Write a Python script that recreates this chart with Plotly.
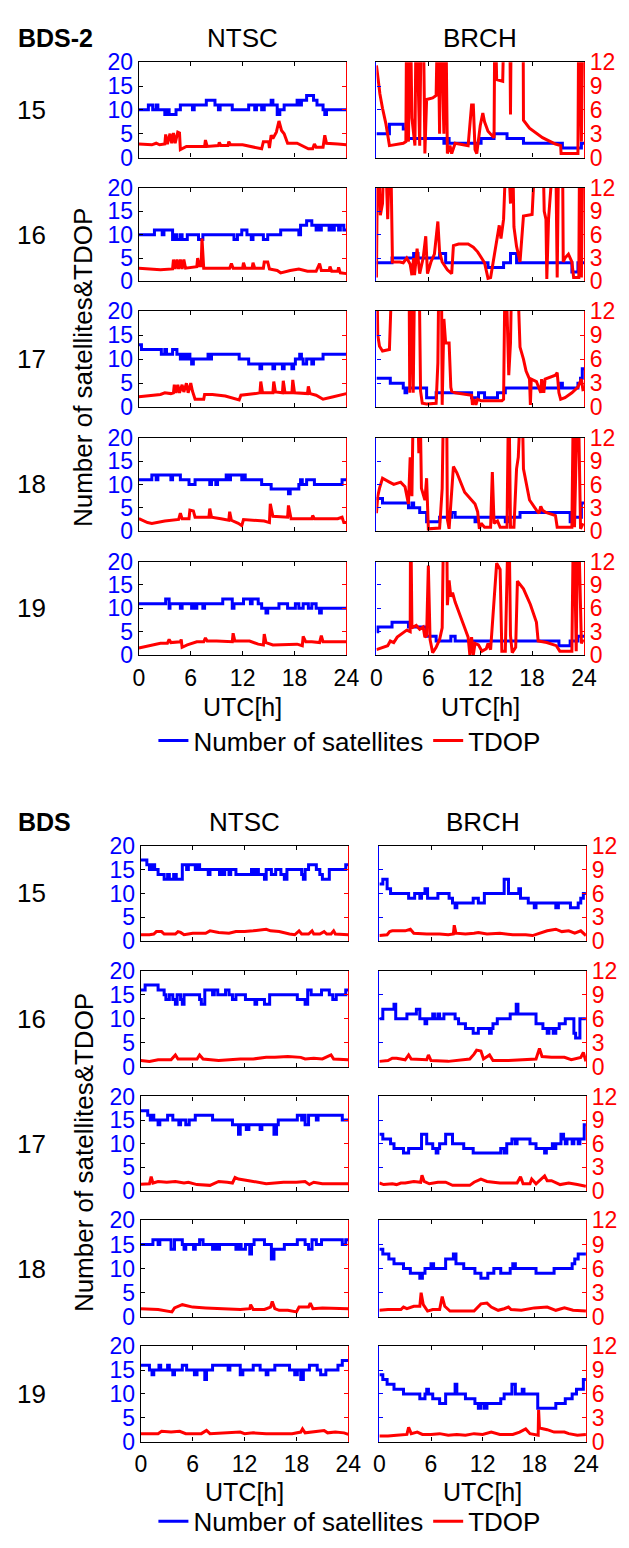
import plotly.graph_objects as go

W, H = 629, 1548
FONT = "Liberation Sans, Arial, sans-serif"
BLUE = "#0000FF"
RED = "#FF0000"

DAYS = ["15", "16", "17", "18", "19"]
STATIONS = ["NTSC", "BRCH"]
GROUP_NAMES = ["BDS-2", "BDS"]
X_TICKS = [0, 6, 12, 18, 24]
SAT_TICKS = [0, 5, 10, 15, 20]
TDOP_TICKS = [0, 3, 6, 9, 12]
SERIES_NAMES = ["Number of satellites", "TDOP"]

# ---------------- BDS-2, NTSC ----------------
BDS2_NTSC_15_SAT = [(0,10),(1.1,11),(1.6,10),(2.0,11),(2.2,10),(3.0,9),(3.3,10),(3.5,9),(4.3,10),(4.8,11),(6.0,11),(6.2,10),(6.4,11),(7.8,12),(8.8,11),(9.2,10),(9.4,11),(10.8,10),(12.7,11),(13.4,10),(13.6,11),(14.2,10),(14.5,11),(15.3,12),(15.5,11),(16.0,9),(16.3,10),(16.8,11),(18.3,12),(18.6,11),(18.8,12),(19.4,13),(20.2,12),(20.6,11),(21.3,10),(21.5,9),(21.7,10),(24,10)]
BDS2_NTSC_15_TDOP = [(0,1.7),(1.5,1.6),(2.0,1.8),(2.4,1.6),(3.0,1.7),(3.1,2.9),(3.3,1.7),(3.6,3.0),(3.8,1.8),(4.0,3.1),(4.2,1.8),(4.5,3.2),(4.7,3.1),(4.8,1.0),(5.5,1.4),(7.6,1.4),(7.7,2.2),(7.9,1.4),(9.2,1.5),(9.3,1.9),(9.5,1.5),(10.3,1.5),(10.4,2.0),(10.6,1.6),(12.0,1.6),(13.5,1.2),(14.2,1.1),(14.4,2.0),(15.0,2.0),(15.1,1.2),(15.3,2.8),(15.5,2.4),(15.9,3.2),(16.2,4.6),(16.5,3.4),(16.8,3.0),(17.2,1.8),(18.3,1.8),(19.0,1.4),(19.6,1.1),(20.1,1.1),(20.3,1.7),(20.5,1.3),(21.3,1.3),(21.5,2.8),(21.7,1.8),(23.0,1.7),(24,1.6)]
BDS2_NTSC_16_SAT = [(0,10),(1.8,11),(2.7,10),(2.9,11),(3.9,9),(4.2,10),(4.4,9),(4.8,10),(5.0,9),(5.6,10),(6.9,9),(7.4,10),(11.0,9),(11.4,10),(11.9,11),(12.5,10),(13.0,9),(13.2,10),(14.4,9),(14.9,10),(16.4,11),(18.5,10),(18.7,12),(19.4,13),(20.0,12),(20.5,11),(20.7,12),(20.9,11),(21.1,12),(22.0,11),(22.2,12),(22.4,11),(22.6,12),(23.1,11),(23.3,12),(23.7,11),(24,11)]
BDS2_NTSC_16_TDOP = [(0,1.7),(1.5,1.6),(2.5,1.5),(3.9,1.6),(4.0,2.8),(4.2,1.6),(4.4,2.8),(4.6,1.6),(4.8,2.8),(5.0,1.6),(5.2,2.8),(5.4,1.7),(6.7,1.9),(6.8,3.0),(7.0,2.0),(7.2,2.0),(7.3,5.5),(7.5,1.7),(10.5,1.7),(10.7,2.3),(10.9,1.7),(12.0,1.7),(12.1,2.4),(12.3,1.7),(13.1,1.7),(13.2,2.4),(13.4,1.7),(14.4,1.7),(14.5,2.5),(14.9,2.5),(15.1,1.6),(16.0,1.4),(16.4,1.1),(17.5,1.4),(18.5,1.6),(19.5,1.3),(20.5,1.3),(20.9,2.3),(21.1,1.4),(22.0,1.4),(22.1,1.9),(22.3,1.3),(23.0,1.3),(23.1,1.8),(23.3,1.1),(24,1.0)]
BDS2_NTSC_17_SAT = [(0,13),(0.3,12),(2.6,11),(3.0,12),(3.2,11),(3.9,12),(4.4,11),(4.8,10),(5.0,11),(5.3,10),(5.6,11),(5.9,10),(6.1,9),(6.3,10),(8.0,11),(8.3,10),(8.4,11),(11.6,10),(12.7,9),(14.0,8),(14.2,9),(15.5,8),(15.7,9),(16.6,8),(16.8,9),(17.7,8),(17.9,9),(18.1,10),(18.6,11),(18.8,10),(19.0,9),(19.4,10),(20.0,9),(20.2,10),(21.3,11),(24,11)]
BDS2_NTSC_17_TDOP = [(0,1.3),(1.5,1.5),(2.5,1.6),(3.0,1.8),(3.7,1.7),(4.0,1.8),(4.1,2.8),(4.3,1.8),(4.5,2.8),(4.7,1.8),(5.0,2.8),(5.2,1.9),(5.5,3.0),(5.7,1.8),(6.0,3.0),(6.2,2.0),(6.5,1.0),(7.5,1.0),(7.6,1.6),(8.5,1.6),(10.0,1.4),(11.6,0.9),(11.8,1.5),(13.5,1.7),(14.0,1.8),(14.1,3.2),(14.3,1.8),(15.5,1.8),(15.6,3.2),(15.8,1.9),(16.6,1.8),(16.7,3.3),(16.9,1.8),(17.7,1.8),(17.8,3.4),(18.0,1.8),(19.5,1.7),(19.6,2.6),(19.8,1.7),(20.5,1.5),(21.3,1.0),(22.5,1.3),(24,1.7)]
BDS2_NTSC_18_SAT = [(0,11),(1.5,12),(2.0,11),(2.2,12),(3.7,11),(3.9,12),(4.8,11),(5.8,10),(6.5,11),(8.2,10),(8.4,11),(8.9,10),(9.1,11),(10.1,12),(10.4,11),(10.6,12),(11.9,11),(12.1,12),(12.3,11),(14.2,10),(15.3,9),(17.3,8),(17.5,9),(18.5,10),(18.7,11),(18.9,10),(19.4,11),(20.3,10),(23.5,11),(24,11)]
BDS2_NTSC_18_TDOP = [(0,1.6),(1.0,1.1),(1.5,1.0),(3.0,1.3),(4.6,1.5),(4.8,2.3),(5.0,1.6),(5.8,1.6),(5.9,2.7),(6.3,2.6),(6.5,1.8),(8.1,1.8),(8.2,2.9),(8.4,1.8),(9.5,1.6),(10.4,1.4),(10.5,2.5),(10.7,1.4),(11.5,1.0),(11.9,0.7),(12.1,1.5),(13.0,1.4),(14.5,1.3),(15.1,1.1),(15.2,3.5),(15.5,1.9),(16.5,1.8),(17.2,1.8),(17.3,3.3),(17.6,1.6),(19.0,1.6),(20.0,1.6),(20.1,2.0),(20.3,1.6),(23.0,1.6),(23.5,1.8),(23.7,1.1),(24,1.1)]
BDS2_NTSC_19_SAT = [(0,11),(3.1,12),(3.5,10),(3.6,11),(4.8,10),(5.0,11),(6.1,10),(6.3,11),(6.5,10),(6.7,11),(7.4,10),(7.6,11),(9.7,12),(10.8,10),(11.0,11),(12.1,12),(12.9,11),(13.1,12),(13.8,11),(14.2,10),(14.7,9),(14.9,10),(16.2,11),(17.2,10),(18.1,11),(18.5,10),(19.0,11),(19.6,10),(20.0,11),(20.5,10),(20.9,9),(21.1,10),(24,10)]
BDS2_NTSC_19_TDOP = [(0,0.9),(1.5,1.3),(2.5,1.5),(3.3,1.5),(3.5,2.0),(3.7,1.6),(4.8,1.7),(4.9,2.0),(5.0,1.0),(5.6,1.3),(6.7,1.7),(7.5,1.7),(7.7,2.2),(7.9,1.8),(9.0,1.8),(10.8,1.7),(10.9,2.8),(11.1,1.8),(12.8,1.8),(13.8,1.4),(14.4,1.3),(14.5,2.7),(14.7,1.6),(15.5,1.3),(17.0,1.4),(18.3,1.4),(18.9,1.2),(19.0,2.4),(19.3,1.7),(20.0,1.7),(20.9,1.6),(21.1,2.5),(21.3,1.7),(24,1.7)]

# ---------------- BDS-2, BRCH ----------------
BDS2_BRCH_15_SAT = [(0,5),(1.5,7),(3.1,6),(3.7,4),(7.8,3),(8.0,4),(8.4,3),(12.1,4),(13.6,5),(15.1,4),(17.0,3),(21.5,2),(23.7,3),(24,3)]
BDS2_BRCH_15_TDOP = [(0,11.6),(0.4,8.0),(0.7,6.2),(1.1,4.2),(1.5,1.5),(2.5,1.7),(3.1,1.8),(3.4,2.0),(3.5,20),(3.7,2.0),(3.9,20),(4.1,5.0),(4.3,3.0),(4.45,1.5),(4.6,20),(5.0,1.5),(5.2,20),(5.4,20),(5.6,0.5),(5.8,7.3),(6.5,7.5),(6.9,7.8),(7.1,20),(7.3,3.0),(7.4,20),(7.8,3.0),(8.0,20),(8.2,0.5),(8.5,1.5),(8.7,0.5),(9.1,1.8),(10.6,1.5),(11.0,6.6),(11.2,6.6),(11.4,1.0),(11.6,0.5),(12.0,4.0),(12.3,5.6),(12.5,4.5),(12.9,3.3),(13.2,3.0),(13.6,2.5),(13.7,20),(13.9,9.8),(14.6,9.6),(14.8,20),(15.4,20),(15.5,5.4),(15.6,20),(16.95,20),(17.0,4.7),(17.7,3.7),(19.2,2.5),(20.7,1.7),(21.3,1.5),(21.35,0.5),(23.3,0.5),(23.4,20),(23.7,2.0),(23.9,20)]
BDS2_BRCH_16_SAT = [(0,4),(1.8,5),(4.3,6),(4.8,5),(7.3,6),(8.0,4),(12.9,3),(14.7,4),(15.5,6),(16.2,4),(22.6,2),(23.3,4),(24,4)]
BDS2_BRCH_16_TDOP = [(0,0.5),(0.15,20),(0.45,8.5),(0.7,10),(0.95,20),(1.3,8),(1.6,20),(1.85,2.5),(2.7,2.5),(3.1,2.4),(3.5,3.0),(3.9,2.2),(4.1,0.8),(4.3,3.0),(4.4,0.8),(4.7,4.2),(5.0,1.0),(5.4,3.0),(5.7,5.8),(5.9,1.0),(6.3,2.5),(6.7,3.5),(7.1,7.7),(7.3,3.8),(7.6,2.5),(8.2,1.5),(8.7,1.0),(8.9,4.6),(9.5,4.8),(10.6,4.8),(11.2,4.4),(11.7,3.8),(12.5,2.4),(12.9,0.4),(13.2,0.5),(13.6,3.0),(14.0,5.5),(14.2,7.2),(14.4,5.5),(14.7,8.0),(15.1,20),(15.5,10),(15.7,20),(15.9,7.0),(16.2,4.5),(16.6,2.5),(17.0,8.4),(18.0,8.6),(18.5,20),(19.2,20),(19.4,9.0),(19.6,8.0),(19.7,0.3),(19.9,8.0),(20.7,20),(20.9,0.5),(21.1,20),(21.5,20),(21.6,2.5),(21.8,3.0),(22.2,3.5),(22.6,2.5),(22.8,0.5),(23.4,0.5),(23.5,20),(23.7,0.5),(23.9,20)]
BDS2_BRCH_17_SAT = [(0,6),(1.6,5),(3.1,4),(3.3,3),(3.5,4),(5.8,2),(6.9,3),(11.0,2),(11.8,3),(12.5,2),(14.0,3),(14.9,4),(21.3,5),(21.5,4),(23.3,5),(23.6,6),(23.8,8),(24,8)]
BDS2_BRCH_17_TDOP = [(0,20),(0.15,9.0),(0.35,7.6),(0.7,7.0),(1.5,7.2),(1.6,8.5),(1.9,20),(3.75,20),(3.85,1.8),(4.05,20),(4.25,1.8),(4.45,20),(4.9,20),(5.1,2.0),(5.3,0.5),(5.8,0.4),(6.9,0.5),(7.1,5.5),(7.25,20),(7.5,20),(7.6,0.3),(7.8,11),(8.0,8.0),(8.4,8.0),(8.6,2.5),(8.7,2.0),(9.1,1.8),(10.6,1.5),(11.0,1.5),(11.1,0.3),(11.3,1.0),(11.5,0.3),(11.7,1.0),(12.1,0.8),(13.2,0.8),(14.5,0.8),(14.7,1.0),(14.9,20),(15.3,4.0),(15.5,8.0),(15.7,20),(16.2,20),(16.6,7.5),(17.0,6.0),(17.3,4.5),(17.7,3.5),(17.8,0.3),(17.9,3.5),(18.5,3.2),(19.0,1.8),(19.1,3.5),(19.35,1.8),(19.5,3.5),(20.0,3.7),(20.7,4.0),(20.9,4.3),(21.1,1.8),(21.3,1.0),(21.8,1.2),(22.6,1.8),(23.3,2.5),(23.7,3.5),(23.9,2.0)]
BDS2_BRCH_18_SAT = [(0,7),(0.7,6),(3.7,5),(4.1,6),(4.3,5),(5.0,4),(5.8,2),(7.3,3),(8.7,4),(9.1,3),(11.4,2),(11.7,3),(14.9,2),(15.3,3),(16.6,4),(22.4,2),(22.8,3),(23.7,6),(24,6)]
BDS2_BRCH_18_TDOP = [(0,2.3),(0.15,4.5),(0.35,5.5),(0.7,6.8),(1.5,6.3),(2.0,6.0),(2.8,6.3),(3.3,5.7),(3.7,3.5),(3.9,9.5),(4.1,4.5),(4.3,20),(4.7,20),(4.9,10),(5.0,20),(5.2,5.5),(5.6,4.0),(5.8,6.8),(6.0,0.3),(7.3,0.4),(7.4,2.0),(7.6,5.5),(7.8,20),(8.1,20),(8.2,1.5),(8.4,0.3),(8.9,8.3),(9.3,7.5),(10.2,5.0),(11.4,3.5),(11.7,2.5),(11.9,0.3),(12.1,1.0),(12.5,0.5),(13.2,0.5),(13.4,7.6),(13.6,1.0),(14.0,1.3),(14.3,0.5),(15.1,0.5),(15.3,20),(15.5,0.5),(15.9,0.5),(16.2,8.0),(16.4,9.5),(16.6,20),(16.8,20),(17.0,8.0),(17.7,4.0),(18.5,2.7),(18.8,2.3),(19.0,3.2),(19.2,2.7),(19.6,2.4),(20.7,2.0),(20.9,0.5),(22.6,0.5),(22.8,20),(22.9,0.5),(23.3,20),(23.6,0.3),(23.9,1.0)]
BDS2_BRCH_19_SAT = [(0,5),(0.15,6),(1.8,7),(3.7,6),(5.8,4),(6.9,3),(8.6,4),(9.1,3),(21.1,2),(22.4,3),(23.3,4),(24,4)]
BDS2_BRCH_19_TDOP = [(0,0.7),(0.9,1.0),(1.3,1.2),(1.6,1.8),(2.0,1.6),(2.4,2.3),(2.8,2.6),(3.5,3.2),(3.9,3.0),(3.95,20),(4.1,3.5),(4.6,3.8),(5.0,3.3),(5.4,3.6),(5.6,2.3),(5.8,2.5),(6.0,11.5),(6.2,2.0),(6.5,0.3),(6.9,1.0),(7.3,2.0),(7.6,3.5),(7.8,20),(8.1,20),(8.2,6.4),(8.4,9.6),(8.6,7.5),(8.8,8.0),(9.1,6.8),(9.5,5.5),(10.2,3.5),(10.6,2.3),(10.8,0),(11.0,2.3),(11.2,0),(11.4,1.5),(11.8,1.3),(12.2,0.5),(12.7,0.8),(12.9,1.5),(13.2,0.7),(13.9,11.8),(14.3,11.0),(14.5,0.5),(14.9,0.5),(15.3,20),(15.5,2.5),(15.7,0.3),(16.1,1.0),(16.3,9.5),(17.0,8.5),(17.8,6.5),(18.5,4.2),(18.7,1.8),(19.7,1.6),(20.8,1.2),(21.2,0.5),(22.6,0.5),(22.8,20),(23.1,0.5),(23.3,20),(23.7,1.5),(23.9,2.0)]

# ---------------- BDS, NTSC ----------------
BDS_NTSC_15_SAT = [(0,17),(0.7,16),(1.0,15),(1.3,16),(1.6,15),(2.0,14),(2.7,13),(3.1,14),(3.3,13),(3.8,14),(4.1,13),(4.8,16),(5.3,15),(5.5,16),(6.3,15),(6.5,16),(6.8,15),(7.8,14),(8.0,15),(9.1,14),(9.3,15),(9.5,14),(9.7,15),(10.2,14),(10.4,15),(11.0,14),(12.8,15),(13.1,14),(13.4,15),(13.6,14),(14.3,13),(14.5,15),(15.1,14),(15.6,15),(16.2,14),(16.6,13),(16.9,15),(18.6,14),(18.8,13),(19.0,15),(19.4,16),(20.3,15),(20.7,14),(21.0,13),(21.8,15),(23.7,16),(24,16)]
BDS_NTSC_15_TDOP = [(0,0.8),(1.0,0.8),(1.5,0.9),(1.8,1.2),(2.4,1.2),(2.7,0.9),(4.0,0.9),(4.3,1.2),(4.6,1.1),(5.0,0.8),(5.5,0.9),(6.0,1.0),(7.5,1.0),(8.0,1.3),(9.0,1.1),(10.2,1.0),(11.0,1.2),(12.0,1.2),(13.0,1.3),(14.0,1.4),(14.5,1.5),(15.0,1.3),(16.0,1.2),(17.2,0.9),(17.8,0.8),(18.3,1.3),(18.6,0.9),(19.4,0.9),(19.8,1.3),(20.0,0.9),(20.7,0.9),(21.2,1.2),(21.5,0.9),(22.0,0.9),(22.3,1.3),(22.5,0.9),(23.5,0.8),(24,0.8)]
BDS_NTSC_16_SAT = [(0,16),(0.5,17),(2.0,16),(2.7,15),(2.9,14),(3.3,15),(3.7,14),(4.0,13),(4.2,15),(4.6,14),(4.8,13),(5.0,15),(6.8,14),(7.0,13),(7.4,16),(8.3,15),(8.5,16),(8.9,15),(9.8,16),(10.2,15),(10.6,14),(11.0,15),(12.1,14),(13.2,13),(13.4,14),(14.3,13),(14.9,15),(18.1,14),(19.0,13),(19.3,16),(19.7,15),(20.9,16),(21.8,15),(22.2,14),(22.6,15),(23.7,16),(24,16)]
BDS_NTSC_16_TDOP = [(0,0.8),(1.0,0.7),(2.0,0.9),(3.5,0.9),(4.0,1.5),(4.3,1.0),(6.5,1.0),(6.8,1.5),(7.2,1.0),(9.0,0.8),(11.5,1.0),(13.0,1.0),(14.5,1.2),(15.5,1.2),(17.0,1.3),(18.5,1.2),(19.0,1.0),(20.0,1.1),(21.0,1.0),(22.0,1.5),(22.3,1.0),(24,0.9)]
BDS_NTSC_17_SAT = [(0,17),(0.8,16),(1.1,15),(1.3,16),(1.5,15),(2.0,14),(2.2,15),(3.1,16),(3.7,15),(4.4,14),(4.6,15),(5.2,14),(5.6,15),(6.3,16),(8.3,15),(10.6,14),(11.3,12),(11.5,14),(12.2,13),(12.5,14),(13.8,13),(14.0,14),(15.4,12),(15.7,14),(15.9,15),(18.1,16),(18.6,15),(18.8,16),(19.0,14),(19.4,16),(20.3,15),(20.5,16),(23.3,15),(24,15)]
BDS_NTSC_17_TDOP = [(0,0.85),(1.0,0.9),(1.2,1.8),(1.4,1.0),(2.0,1.2),(3.0,1.1),(4.0,1.2),(5.0,1.0),(5.5,1.1),(6.5,0.8),(8.0,0.7),(9.0,1.2),(10.0,1.1),(10.6,1.0),(10.9,1.7),(11.3,1.5),(12.5,1.3),(13.5,1.1),(14.5,0.9),(15.5,1.0),(16.5,1.1),(18.0,1.1),(19.0,1.2),(19.5,0.8),(20.0,1.1),(21.0,0.9),(24,0.9)]
BDS_NTSC_18_SAT = [(0,15),(1.4,16),(2.0,15),(2.2,16),(3.5,14),(3.9,16),(4.8,15),(5.0,14),(5.2,15),(6.1,14),(6.3,15),(6.8,16),(7.2,15),(8.3,14),(8.6,15),(8.8,14),(9.1,15),(11.0,14),(11.3,15),(11.6,14),(12.1,15),(12.6,13),(12.8,15),(13.1,16),(14.3,15),(15.1,12),(15.4,14),(16.6,15),(18.1,16),(19.0,15),(19.4,14),(19.8,16),(20.3,15),(20.9,16),(23.3,15),(23.7,16),(24,16)]
BDS_NTSC_18_TDOP = [(0,1.0),(2.0,0.9),(3.6,0.6),(3.9,1.1),(4.8,1.5),(6.0,1.2),(7.5,1.1),(9.0,1.0),(10.0,1.0),(11.5,0.9),(12.6,1.0),(12.7,1.5),(13.0,0.9),(14.3,0.9),(15.0,1.2),(15.2,1.9),(15.5,1.0),(16.0,0.8),(17.0,0.8),(18.0,0.6),(18.3,1.2),(19.4,1.2),(19.6,1.7),(19.9,1.0),(21.0,1.1),(23.0,1.0),(24,1.0)]
BDS_NTSC_19_SAT = [(0,16),(1.0,15),(1.3,14),(1.5,15),(2.1,16),(2.3,15),(3.1,16),(3.3,15),(3.7,14),(3.9,15),(4.8,16),(5.3,15),(6.2,14),(6.5,15),(7.4,13),(7.6,15),(8.3,16),(10.1,15),(10.3,16),(11.5,14),(11.8,15),(13.0,16),(13.8,15),(14.5,14),(14.7,15),(15.5,16),(17.2,15),(17.8,14),(18.1,15),(18.5,13),(18.8,15),(19.5,16),(20.4,15),(20.8,14),(21.4,15),(22.8,16),(23.3,17),(24,17)]
BDS_NTSC_19_TDOP = [(0,1.0),(2.0,1.0),(2.4,1.3),(3.5,1.2),(4.5,1.3),(5.2,1.0),(7.0,1.0),(7.6,1.4),(8.0,1.0),(9.5,1.1),(10.5,1.2),(11.5,1.2),(12.0,1.0),(13.0,1.1),(14.5,1.0),(16.0,1.0),(17.5,1.0),(18.5,1.2),(18.7,1.6),(19.0,1.1),(20.0,1.2),(21.2,1.4),(21.6,1.1),(22.5,1.2),(23.5,1.1),(24,0.9)]

# ---------------- BDS, BRCH ----------------
BDS_BRCH_15_SAT = [(0,12),(0.4,13),(0.9,11),(1.3,10),(3.4,9),(4.1,10),(4.7,9),(4.9,10),(5.3,11),(5.6,9),(6.8,10),(8.1,9),(8.5,8),(8.8,7),(9.0,8),(10.9,9),(11.5,8),(12.2,10),(14.5,13),(15.0,10),(16.2,11),(16.4,9),(17.3,8),(18.0,7),(18.2,8),(20.5,7),(20.8,8),(22.2,7),(23.1,8),(23.4,9),(23.7,10),(24,10)]
BDS_BRCH_15_TDOP = [(0,0.7),(0.9,0.8),(1.2,1.2),(1.5,1.3),(3.0,1.3),(3.6,1.5),(4.0,1.0),(5.5,0.9),(7.0,0.9),(8.0,0.8),(8.6,0.9),(8.7,2.0),(8.9,1.0),(10.0,0.9),(11.0,1.0),(11.5,1.1),(12.5,0.9),(14.0,1.0),(15.5,0.8),(17.0,0.8),(17.8,0.7),(18.6,1.0),(19.5,1.3),(20.5,1.5),(21.2,1.2),(22.0,1.3),(22.7,1.0),(23.4,1.3),(24,0.7)]
BDS_BRCH_16_SAT = [(0,10),(0.4,12),(1.7,13),(1.9,10),(3.2,11),(4.3,12),(4.7,10),(5.3,9),(5.5,10),(6.2,11),(6.4,10),(6.8,11),(7.0,10),(7.5,11),(8.8,10),(9.2,9),(10.0,8),(10.9,7),(11.5,8),(12.8,7),(13.0,8),(13.2,9),(13.7,10),(15.2,11),(15.9,13),(16.1,11),(18.2,9),(19.0,8),(19.5,7),(19.7,8),(20.2,7),(20.5,8),(20.9,9),(21.6,10),(22.6,7),(22.8,6),(23.3,10),(24,10)]
BDS_BRCH_16_TDOP = [(0,0.7),(1.0,0.8),(1.5,1.1),(2.0,1.1),(3.0,0.9),(3.4,1.5),(3.7,1.0),(5.5,0.9),(5.7,1.5),(6.0,0.8),(8.0,0.7),(9.5,0.9),(10.5,1.0),(11.0,1.6),(11.3,2.1),(11.8,2.0),(12.1,1.0),(12.8,1.5),(13.2,0.8),(15.0,0.8),(17.0,0.9),(18.2,1.0),(18.6,2.3),(18.9,1.3),(20.0,1.2),(21.5,1.2),(22.3,0.9),(23.4,1.2),(23.7,1.8),(24,0.7)]
BDS_BRCH_17_SAT = [(0,12),(0.4,11),(1.3,10),(1.7,9),(2.8,8),(3.4,9),(4.9,12),(5.5,10),(6.2,9),(6.6,8),(6.8,9),(7.0,10),(7.7,12),(8.5,10),(9.8,9),(10.9,8),(14.1,9),(14.5,8),(14.8,10),(15.4,11),(15.8,10),(16.0,11),(17.5,10),(18.2,9),(19.2,8),(19.4,9),(20.1,10),(20.3,9),(20.5,10),(21.1,12),(21.4,11),(21.6,10),(21.8,11),(22.4,10),(22.6,11),(23.1,10),(23.3,11),(23.8,14),(24,14)]
BDS_BRCH_17_TDOP = [(0,1.0),(0.5,0.8),(1.5,0.9),(2.0,0.8),(2.5,1.0),(3.0,1.0),(4.0,1.2),(4.8,1.1),(4.95,2.0),(5.2,1.2),(5.8,0.9),(6.8,1.1),(7.7,1.1),(8.5,0.7),(10.5,0.7),(11.0,1.1),(11.8,1.5),(12.5,1.2),(14.0,1.0),(15.0,1.0),(16.0,1.0),(16.4,1.8),(16.7,0.9),(17.5,0.9),(17.7,1.5),(18.2,0.9),(19.2,1.9),(19.5,1.3),(20.0,1.3),(21.0,0.8),(22.0,1.0),(23.0,0.8),(24,0.6)]
BDS_BRCH_18_SAT = [(0,14),(0.4,13),(1.1,12),(1.7,11),(2.8,10),(3.6,9),(4.7,8),(5.0,9),(5.3,10),(6.0,11),(6.3,10),(7.7,12),(8.6,13),(8.9,11),(9.8,10),(11.1,9),(11.8,8),(12.6,9),(13.3,10),(14.1,9),(15.2,10),(15.5,11),(15.8,10),(18.2,9),(20.3,10),(22.4,11),(22.7,12),(23.1,13),(24,13)]
BDS_BRCH_18_TDOP = [(0,0.8),(1.0,0.9),(2.5,0.9),(2.8,1.2),(3.2,1.0),(4.0,1.3),(4.7,1.3),(4.85,3.0),(5.1,1.5),(5.6,0.7),(6.2,0.9),(7.0,0.9),(7.3,2.5),(7.6,1.3),(8.2,0.7),(11.0,0.7),(11.8,1.6),(12.5,1.7),(13.0,1.2),(13.8,0.8),(14.5,1.0),(15.0,1.2),(15.3,0.9),(16.5,0.8),(18.0,1.1),(19.5,1.2),(20.5,0.8),(21.5,1.1),(22.5,0.8),(24,0.7)]
BDS_BRCH_19_SAT = [(0,14),(0.4,13),(0.9,12),(1.7,11),(2.8,10),(4.7,9),(5.3,10),(5.5,11),(5.7,10),(6.2,9),(7.0,8),(7.7,10),(8.8,12),(9.0,10),(10.0,9),(11.1,8),(11.5,7),(11.8,8),(12.2,7),(12.5,8),(14.1,9),(14.5,10),(15.4,12),(15.8,10),(16.6,11),(16.8,10),(18.4,7),(20.5,8),(21.6,9),(22.4,10),(22.9,11),(23.7,13),(24,13)]
BDS_BRCH_19_TDOP = [(0,0.7),(1.0,0.7),(2.0,0.8),(3.2,0.9),(3.4,1.8),(3.7,1.0),(4.4,1.2),(5.0,0.9),(6.0,0.9),(7.0,1.0),(8.0,0.8),(9.0,0.9),(10.0,0.8),(11.0,1.0),(12.0,0.9),(13.0,1.2),(14.0,0.9),(15.5,0.9),(16.3,1.2),(17.0,1.6),(17.5,1.0),(18.3,0.8),(18.45,0.8),(18.5,4.0),(18.6,1.7),(19.5,1.5),(20.3,1.2),(21.5,1.2),(22.0,1.0),(23.0,0.8),(24,0.9)]

PANEL_DATA = {
    (0, 0, 0): (BDS2_NTSC_15_SAT, BDS2_NTSC_15_TDOP), (0, 0, 1): (BDS2_BRCH_15_SAT, BDS2_BRCH_15_TDOP),
    (0, 1, 0): (BDS2_NTSC_16_SAT, BDS2_NTSC_16_TDOP), (0, 1, 1): (BDS2_BRCH_16_SAT, BDS2_BRCH_16_TDOP),
    (0, 2, 0): (BDS2_NTSC_17_SAT, BDS2_NTSC_17_TDOP), (0, 2, 1): (BDS2_BRCH_17_SAT, BDS2_BRCH_17_TDOP),
    (0, 3, 0): (BDS2_NTSC_18_SAT, BDS2_NTSC_18_TDOP), (0, 3, 1): (BDS2_BRCH_18_SAT, BDS2_BRCH_18_TDOP),
    (0, 4, 0): (BDS2_NTSC_19_SAT, BDS2_NTSC_19_TDOP), (0, 4, 1): (BDS2_BRCH_19_SAT, BDS2_BRCH_19_TDOP),
    (1, 0, 0): (BDS_NTSC_15_SAT, BDS_NTSC_15_TDOP), (1, 0, 1): (BDS_BRCH_15_SAT, BDS_BRCH_15_TDOP),
    (1, 1, 0): (BDS_NTSC_16_SAT, BDS_NTSC_16_TDOP), (1, 1, 1): (BDS_BRCH_16_SAT, BDS_BRCH_16_TDOP),
    (1, 2, 0): (BDS_NTSC_17_SAT, BDS_NTSC_17_TDOP), (1, 2, 1): (BDS_BRCH_17_SAT, BDS_BRCH_17_TDOP),
    (1, 3, 0): (BDS_NTSC_18_SAT, BDS_NTSC_18_TDOP), (1, 3, 1): (BDS_BRCH_18_SAT, BDS_BRCH_18_TDOP),
    (1, 4, 0): (BDS_NTSC_19_SAT, BDS_NTSC_19_TDOP), (1, 4, 1): (BDS_BRCH_19_SAT, BDS_BRCH_19_TDOP),
}

# ---------------- layout geometry (pixels) ----------------
COL_X = [[(137, 351), (382, 596)], [(139, 353), (385, 598)]]
ROW_TOP = [[50, 178, 303, 432, 558], [847, 974, 1102, 1228, 1356]]
ROW_BOT = [[147, 273, 401, 527, 653], [944, 1072, 1198, 1326, 1453]]
HEADER_Y = [25, 823]
UTC_Y = [706, 1504]
LEGEND_Y = [740, 1534]

TXT = 26
TICK = 23


def px(x):
    return x / W


def py(y):
    return 1 - y / H


fig = go.Figure()
layout = dict(
    width=W, height=H, margin=dict(l=0, r=0, t=0, b=0),
    paper_bgcolor="white", plot_bgcolor="white",
    font=dict(family=FONT, size=TICK, color="black"),
    showlegend=True,
)
annotations = []

k = 0
for g in range(2):
    for r in range(5):
        for c in range(2):
            k += 1
            xk = "" if k == 1 else str(k)
            yb = "" if k == 1 else str(2 * k - 1)
            yr = str(2 * k)
            x0, x1 = COL_X[g][c]
            dom_x = [px(x0), px(x1)]
            dom_y = [py(ROW_BOT[g][r]), py(ROW_TOP[g][r])]
            bottom = (r == 4)
            layout["xaxis" + xk] = dict(
                domain=dom_x, range=[0, 24], anchor="y" + yb,
                tickmode="array", tickvals=X_TICKS, ticks="inside", ticklen=4,
                tickcolor="black", showline=True, linecolor="black", linewidth=1.2,
                mirror="ticks", showgrid=False, zeroline=False,
                showticklabels=bottom, tickfont=dict(size=TICK, color="black"),
                ticklabelstandoff=2,
            )
            layout["yaxis" + yb] = dict(
                domain=dom_y, range=[0, 20], anchor="x" + xk, side="left",
                tickmode="array", tickvals=SAT_TICKS, ticks="inside", ticklen=4,
                tickcolor=BLUE if c == 1 else "black",
                showline=True, linecolor=BLUE if c == 1 else "black", linewidth=1.2,
                showgrid=False, zeroline=False,
                showticklabels=(c == 0), tickfont=dict(size=TICK, color=BLUE),
            )
            layout["yaxis" + yr] = dict(
                range=[0, 12], anchor="x" + xk, overlaying="y" + yb, side="right",
                tickmode="array", tickvals=TDOP_TICKS, ticks="inside", ticklen=4,
                tickcolor=RED, showline=True, linecolor=RED, linewidth=1.2,
                showgrid=False, zeroline=False,
                showticklabels=(c == 1), tickfont=dict(size=TICK, color=RED),
            )
            sat, tdop = PANEL_DATA[(g, r, c)]
            first = (r == 0 and c == 0)
            leg = "legend" if g == 0 else "legend2"
            fig.add_trace(go.Scatter(
                x=[p[0] for p in sat], y=[p[1] for p in sat], mode="lines",
                line=dict(color=BLUE, width=3, shape="hv"),
                name=SERIES_NAMES[0], showlegend=first, legend=leg,
                xaxis="x" + xk, yaxis="y" + yb, hoverinfo="skip",
            ))
            fig.add_trace(go.Scatter(
                x=[p[0] for p in tdop], y=[p[1] for p in tdop], mode="lines",
                line=dict(color=RED, width=3),
                name=SERIES_NAMES[1], showlegend=first, legend=leg,
                xaxis="x" + xk, yaxis="y" + yr, hoverinfo="skip",
            ))
            if c == 0:
                annotations.append(dict(
                    text=DAYS[r], x=px(26), y=py((ROW_TOP[g][r] + ROW_BOT[g][r]) / 2),
                    xref="paper", yref="paper", showarrow=False,
                    xanchor="center", yanchor="middle",
                    font=dict(size=TXT, color="black", family=FONT)))
            if bottom:
                annotations.append(dict(
                    text="UTC[h]", x=px((x0 + x1) / 2), y=py(UTC_Y[g]),
                    xref="paper", yref="paper", showarrow=False,
                    xanchor="center", yanchor="middle",
                    font=dict(size=25, color="black", family=FONT)))
            if r == 0:
                annotations.append(dict(
                    text=STATIONS[c], x=px((x0 + x1) / 2), y=py(HEADER_Y[g]),
                    xref="paper", yref="paper", showarrow=False,
                    xanchor="center", yanchor="middle",
                    font=dict(size=TXT, color="black", family=FONT)))
    annotations.append(dict(
        text="<b>%s</b>" % GROUP_NAMES[g], x=px(10), y=py(HEADER_Y[g]),
        xref="paper", yref="paper", showarrow=False,
        xanchor="left", yanchor="middle",
        font=dict(size=25, color="black", family=FONT)))
    annotations.append(dict(
        text="Number of satellites&TDOP", x=px(80),
        y=py((ROW_TOP[g][0] + ROW_BOT[g][4]) / 2 + 9),
        xref="paper", yref="paper", showarrow=False, textangle=-90,
        xanchor="center", yanchor="middle",
        font=dict(size=TXT, color="black", family=FONT)))

for g, key in enumerate(["legend", "legend2"]):
    layout[key] = dict(
        orientation="h", x=px(152), xanchor="left", y=py(LEGEND_Y[g]), yanchor="middle",
        font=dict(size=TXT, color="black", family=FONT), bgcolor="rgba(0,0,0,0)",
        borderwidth=0, itemwidth=30, tracegroupgap=0,
    )

layout["annotations"] = annotations
fig.update_layout(**layout)
fig.write_html(
    "out.html",
    config={"displayModeBar": False},
    post_script="document.body.style.margin='0px';document.body.style.overflow='hidden';",
)
